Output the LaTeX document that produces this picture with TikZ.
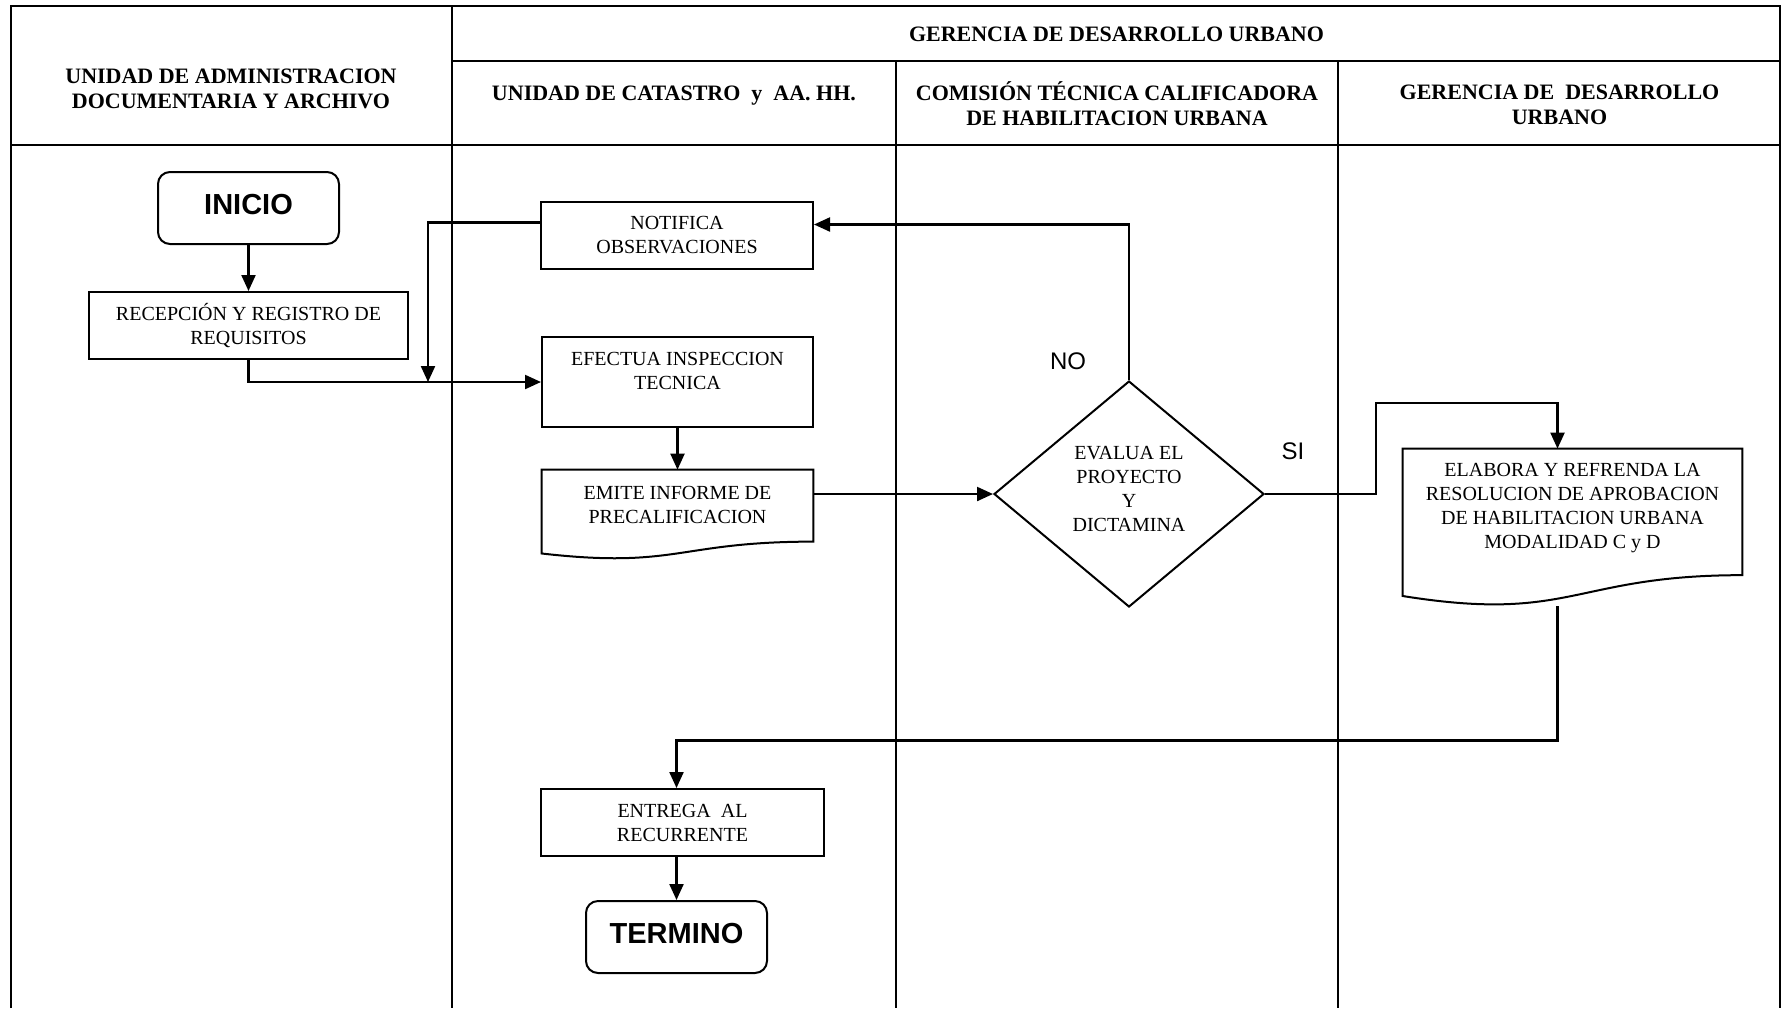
\documentclass[tikz,border=0pt]{standalone}
\usepackage{fontspec}
\setmainfont{Liberation Serif}
\newfontfamily\arialfont{Liberation Sans}
\usetikzlibrary{positioning, arrows.meta, shapes.geometric, calc}

% outline of a document symbol drawn round a node
\newcommand{\docoutline}[1]{%
  \draw[line width=1pt] (#1.north west) -- (#1.north east)
    -- ($(#1.north east)!0.802!(#1.south east)$)
    .. controls ($(#1.north)!0.802!(#1.south)$) and ($(#1.north)!1.107!(#1.south)$)
    .. ($(#1.north west)!0.934!(#1.south west)$) -- cycle;}

\begin{document}
\begin{tikzpicture}[x=0.5pt, y=-0.5pt, >={Triangle[length=8pt, width=7pt]},
    lane/.style={line width=1.3pt},
    thinlane/.style={line width=0.6pt},
    head/.style={font=\bfseries\fontsize{11}{12.5}\selectfont, align=center},
    box/.style={draw, line width=1pt, inner sep=0pt, align=center, font=\fontsize{10}{12}\selectfont},
    docbox/.style={inner sep=0pt},
    boxtext/.style={align=center, inner sep=0pt, font=\fontsize{10}{12}\selectfont},
    terminal/.style={draw, line width=1pt, rounded corners=6pt, minimum width=90.5pt, minimum height=36pt, text depth=4pt, font=\arialfont\bfseries\fontsize{14.5}{16}\selectfont},
    decision/.style={diamond, draw, line width=1pt, inner sep=0pt},
    flow/.style={->, line width=1.1pt},
    tag/.style={font=\arialfont\fontsize{12}{14}\selectfont}]

\fill[white] (0,0) rectangle (1782,1008);
\useasboundingbox (0,0) rectangle (1782,1008);

% Lanes
\draw[lane] (11,1008) -- (11,6) -- (1780,6) -- (1780,1008);
\draw[lane] (452,6) -- (452,1008);
\draw[lane] (452,61) -- (1780,61);
\draw[lane] (11,145) -- (1780,145);
\draw[lane] (896,61) -- (896,145);
\draw[thinlane] (896,145) -- (896,1008);
\draw[lane] (1338,61) -- (1338,1008);

% Headers
\node[head] (h-archivo) at (231,89) {UNIDAD DE ADMINISTRACION\\DOCUMENTARIA Y ARCHIVO};
\node[head] (h-gerencia) at (1116.5,34) {GERENCIA DE DESARROLLO URBANO};
\node[head] (h-catastro) at (674,95.5) {UNIDAD DE CATASTRO\ \ y\ \ AA. HH.};
\node[head] (h-comision) at (1117,104) {COMISIÓN TÉCNICA CALIFICADORA\\DE HABILITACION URBANA};
\node[head] (h-desarrollo) at (1559.5,104.5) {GERENCIA DE\ \ DESARROLLO\\URBANO};

% Nodes
\node[terminal] (inicio) at (248.5,208) {INICIO};
\node[box, minimum width=159.5pt, minimum height=33.5pt] (recepcion) at (248.5,325.5) {RECEPCIÓN Y REGISTRO DE\\REQUISITOS};
\node[box, minimum width=136pt, minimum height=33.5pt] (notifica) at (677,235.5) {NOTIFICA\\OBSERVACIONES};
\node[box, minimum width=135.5pt, minimum height=45pt] (efectua) at (677.5,382) {};
\node[boxtext] (efectua-text) at ([yshift=5.5pt]efectua.center) {EFECTUA INSPECCION\\TECNICA};
\node[docbox, minimum width=135.5pt, minimum height=44.5pt] (emite) at (677.5,514.5) {};
\node[boxtext] (emite-text) at ([yshift=5pt]emite.center) {EMITE INFORME DE\\PRECALIFICACION};
\node[decision, minimum width=135pt, minimum height=113pt] (evalua) at (1129,494) {};
\node[boxtext] (evalua-text) at ([yshift=2.5pt]evalua.center) {EVALUA EL\\PROYECTO\\Y\\DICTAMINA};
\node[docbox, minimum width=169.5pt, minimum height=78.5pt] (elabora) at (1572.5,527.5) {};
\node[boxtext] (elabora-text) at ([yshift=9.5pt]elabora.center) {ELABORA Y REFRENDA LA\\RESOLUCION DE APROBACION\\DE HABILITACION URBANA\\MODALIDAD C y D};
\node[box, minimum width=141.5pt, minimum height=33.5pt] (entrega) at (682.5,822.5) {ENTREGA\ \ AL\\RECURRENTE};
\node[terminal] (termino) at (676.5,937) {TERMINO};
\docoutline{emite}
\docoutline{elabora}

% Branch labels
\node[tag] (no) at (1068,361) {NO};
\node[tag] (si) at (1293,451) {SI};

% Arrows
\coordinate (merge) at (428,382);
\coordinate (siturn) at (1376,403);
\draw[flow] (inicio.south) -- (recepcion.north);
\draw[flow] (recepcion.south) |- (efectua.west);
\draw[flow] ([yshift=6.5pt]notifica.west) -| (merge);
\draw[flow] (efectua.south) -- (emite.north);
\draw[flow] (emite.east |- evalua.west) -- (evalua.west);
\draw[flow] (evalua.north) |- ([yshift=5.5pt]notifica.east);
\draw[flow] (evalua.east) -| (siturn) -| ([xshift=-7.5pt]elabora.north);
\draw[flow] ([xshift=-7.5pt]elabora.south) -- ++(0,134) -| (entrega.north -| termino.north);
\draw[flow] (entrega.south -| termino.north) -- (termino.north);
\end{tikzpicture}
\end{document}
